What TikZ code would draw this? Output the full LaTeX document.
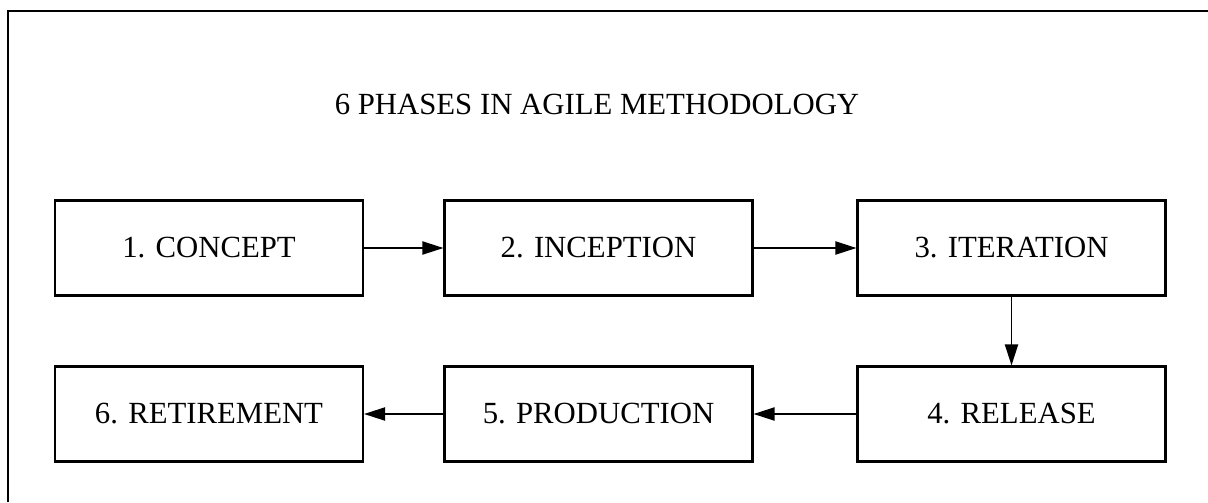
\documentclass[tikz,border=0pt]{standalone}
\usepackage{fontspec}
\setmainfont{Liberation Serif}
\usetikzlibrary{arrows.meta}
\begin{document}
\begin{tikzpicture}[
  block/.style={rectangle, draw, line width=1.2pt, minimum width=6.16cm, minimum height=1.9cm, font=\fontsize{17.5}{21}\selectfont},
  node distance=7.79cm,
  >={Triangle[length=12pt,width=7.5pt]},
  font=\fontsize{17.5}{21}\selectfont
]
\useasboundingbox (0,0) rectangle (24.16,-10.04);
\draw[line width=1.4pt] (0.16,-10.04) -- (0.16,-0.22) -- (24.16,-0.22);

\node (title) at (11.94,-2.08) {6 PHASES IN AGILE METHODOLOGY};

\node[block] (concept) at (4.18,-4.96) {1. CONCEPT};
\node[block, right of=concept] (inception) {2. INCEPTION};
\node[block, right of=inception, node distance=8.26cm] (iteration) {3. ITERATION};
\node[block, below of=iteration, node distance=3.32cm] (release) {4. RELEASE};
\node[block, left of=release, node distance=8.26cm] (production) {5. PRODUCTION};
\node[block, left of=production] (retirement) {6. RETIREMENT};

\draw[->,line width=0.9pt] (concept) -- (inception);
\draw[->,line width=0.9pt] (inception) -- (iteration);
\draw[->,line width=0.9pt] (iteration) -- (release);
\draw[->,line width=0.9pt] (release) -- (production);
\draw[->,line width=0.9pt] (production) -- (retirement);
\end{tikzpicture}
\end{document}
